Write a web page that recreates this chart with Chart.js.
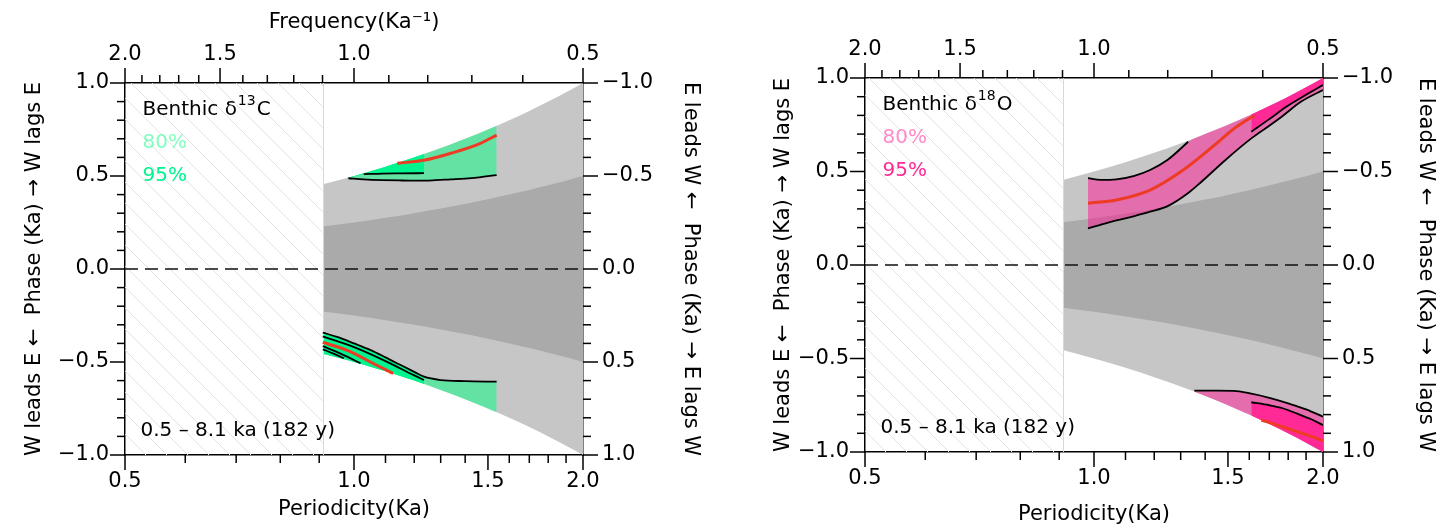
<!DOCTYPE html>
<html>
<head>
<meta charset="utf-8">
<script src="https://cdn.jsdelivr.net/npm/chart.js@4.4.1/dist/chart.umd.min.js"></script>
<style>
  body { margin: 0; background: #fff; }
  .panel { position: absolute; top: 0; }
</style>
</head>
<body>
<div class="panel" style="left:0"><canvas id="c13" width="727" height="527"></canvas></div>
<div class="panel" style="left:727px"><canvas id="o18" width="728" height="527"></canvas></div>
<script>
// ===== Ejes =====
const periodTicks = [0.5, 0.6, 0.7, 0.8, 0.9, 1.0, 1.1, 1.2, 1.3, 1.4, 1.5, 1.6, 1.7, 1.8, 1.9, 2.0];
const periodLabels = [0.5, 1.0, 1.5, 2.0];
const freqTicks = [2.0, 1.9, 1.8, 1.7, 1.6, 1.5, 1.4, 1.3, 1.2, 1.1, 1.0, 0.9, 0.8, 0.7, 0.6, 0.5];
const freqLabels = [2.0, 1.5, 1.0, 0.5];
const phaseTicks = [-1.0, -0.9, -0.8, -0.7, -0.6, -0.5, -0.4, -0.3, -0.2, -0.1, 0.0,
                    0.1, 0.2, 0.3, 0.4, 0.5, 0.6, 0.7, 0.8, 0.9, 1.0];
const phaseLabels = [-1.0, -0.5, 0.0, 0.5, 1.0];

// zona rayada (periodos no resueltos)
const hatchBand = [0.5, 0.91];

// ===== Envolventes grises =====
const envP      = [0.91, 1.0, 1.1, 1.2, 1.3, 1.4, 1.5, 1.6, 1.7, 1.8, 1.9, 2.0];
const halfUp    = [0.455, 0.50, 0.55, 0.60, 0.65, 0.70, 0.75, 0.80, 0.85, 0.90, 0.95, 1.00];
const halfDn    = [-0.455, -0.50, -0.55, -0.60, -0.65, -0.70, -0.75, -0.80, -0.85, -0.90, -0.95, -1.00];
const quarterUp = [0.228, 0.25, 0.275, 0.30, 0.325, 0.35, 0.375, 0.40, 0.425, 0.45, 0.475, 0.50];
const quarterDn = [-0.228, -0.25, -0.275, -0.30, -0.325, -0.35, -0.375, -0.40, -0.425, -0.45, -0.475, -0.50];

// ===== Benthic d13C =====
const c13Up80P  = [0.983, 1.03, 1.09, 1.15, 1.21, 1.27, 1.34, 1.40, 1.45, 1.54];
const c13Up80Hi = [0.490, 0.515, 0.545, 0.575, 0.605, 0.635, 0.670, 0.700, 0.725, 0.770];
const c13Up80Lo = [0.488, 0.482, 0.478, 0.476, 0.475, 0.477, 0.482, 0.486, 0.491, 0.505];
const c13Up95P  = [0.983, 1.03, 1.09, 1.15, 1.236];
const c13Up95Hi = [0.490, 0.515, 0.545, 0.575, 0.618];
const c13Up95Lo = [0.488, 0.510, 0.513, 0.514, 0.515];
const c13UpRedP = [1.14, 1.24, 1.34, 1.45, 1.54];
const c13UpRed  = [0.568, 0.586, 0.622, 0.667, 0.720];

const c13LoP    = [0.91, 0.95, 1.0, 1.05, 1.1, 1.15, 1.2, 1.236, 1.3, 1.4, 1.54];
const c13LoTop  = [-0.342, -0.365, -0.40, -0.435, -0.475, -0.515, -0.553, -0.579, -0.597, -0.603, -0.606];
const c13LoEnv  = [-0.455, -0.475, -0.50, -0.525, -0.55, -0.575, -0.60, -0.618, -0.65, -0.70, -0.77];
const c13Lo95P  = [0.91, 0.95, 1.0, 1.05, 1.1, 1.15, 1.2, 1.236];
const c13Lo95Hi = [-0.342, -0.365, -0.40, -0.435, -0.475, -0.515, -0.553, -0.579];
const c13Lo95Lo = [-0.455, -0.475, -0.50, -0.525, -0.55, -0.575, -0.60, -0.618];
const c13LoLineBP = [0.91, 1.0, 1.1, 1.2, 1.236];
const c13LoLineB  = [-0.362, -0.42, -0.495, -0.572, -0.597];
const c13LoLineCP = [0.91, 0.94, 0.97];
const c13LoLineC  = [-0.432, -0.455, -0.48];
const c13LoLineDP = [0.91, 0.96, 1.02];
const c13LoLineD  = [-0.415, -0.455, -0.507];
const c13LoRedP = [0.91, 0.99, 1.06, 1.126];
const c13LoRed  = [-0.394, -0.445, -0.508, -0.561];

// ===== Benthic d18O =====
const o18Up80P  = [0.982, 1.02, 1.07, 1.13, 1.185, 1.25, 1.33, 1.38, 1.49, 1.61, 1.70, 1.77, 1.87, 2.0];
const o18Up80Hi = [0.464, 0.455, 0.458, 0.477, 0.508, 0.563, 0.659, 0.690, 0.745, 0.805, 0.850, 0.885, 0.935, 1.0];
const o18Up80Lo = [0.196, 0.215, 0.238, 0.262, 0.285, 0.315, 0.385, 0.440, 0.563, 0.677, 0.745, 0.797, 0.873, 0.936];
const o18UpEdgeP = [0.982, 1.02, 1.07, 1.13, 1.185, 1.25, 1.33];
const o18UpEdge  = [0.464, 0.455, 0.458, 0.477, 0.508, 0.563, 0.659];
const o18Up95P  = [1.61, 1.70, 1.79, 1.90, 2.0];
const o18Up95Hi = [0.805, 0.850, 0.895, 0.950, 1.0];
const o18Up95Lo = [0.713, 0.780, 0.846, 0.910, 0.963];
const o18UpRedP = [0.982, 1.07, 1.185, 1.31, 1.45, 1.53, 1.625];
const o18UpRed  = [0.33, 0.348, 0.401, 0.508, 0.651, 0.731, 0.80];

const o18Lo80P  = [1.355, 1.45, 1.525, 1.61, 1.70, 1.80, 1.90, 2.0];
const o18Lo80Hi = [-0.672, -0.672, -0.673, -0.688, -0.71, -0.74, -0.772, -0.811];
const o18Lo80Lo = [-0.678, -0.725, -0.763, -0.805, -0.85, -0.90, -0.95, -1.0];
const o18Lo95P  = [1.61, 1.70, 1.77, 1.85, 1.93, 2.0];
const o18Lo95Hi = [-0.734, -0.75, -0.766, -0.795, -0.825, -0.856];
const o18Lo95Lo = [-0.805, -0.85, -0.885, -0.925, -0.965, -1.0];
const o18LoRedP = [1.66, 1.74, 1.82, 1.91, 2.0];
const o18LoRed  = [-0.829, -0.855, -0.882, -0.91, -0.94];

// ===== Colores =====
const lightGray = '#c6c6c6';
const darkGray = '#aaaaaa';
const redLine = '#ee3b24';
const green80 = 'rgba(0, 255, 127, 0.5)';
const green95 = '#00f58f';
const pink80 = 'rgba(255, 20, 147, 0.5)';
const pink95 = '#ff2a95';

const FONT = 'DejaVu Sans';
Chart.defaults.font.family = FONT;
Chart.defaults.color = '#000';

function pts(ps, vs) {
    return ps.map((p, i) => ({ x: p, y: vs[i] }));
}

// par de series: borde inferior invisible + borde superior relleno hasta el anterior
function band(ps, lo, hi, color, order) {
    const base = { borderWidth: 0, borderColor: 'rgba(0,0,0,0)', pointRadius: 0, cubicInterpolationMode: 'monotone', order: order };
    return [
        Object.assign({ data: pts(ps, lo), fill: false }, base),
        Object.assign({ data: pts(ps, hi), fill: '-1', backgroundColor: color }, base)
    ];
}

function curve(ps, vs, color, width, order) {
    return { data: pts(ps, vs), borderColor: color, borderWidth: width, pointRadius: 0,
             fill: false, cubicInterpolationMode: 'monotone', order: order };
}

function grayBands() {
    return [].concat(
        band(envP, halfDn, halfUp, lightGray, 20),
        band(envP, quarterDn, quarterUp, darkGray, 19)
    );
}

function zeroLine() {
    return { data: pts([0.5, 2.0], [0, 0]), borderColor: '#111', borderWidth: 1.5,
             borderDash: [13, 7], pointRadius: 0, fill: false, order: 1 };
}

function fmtPhase(v) {
    return (v < -1e-9 ? '\u2212' : '') + Math.abs(v).toFixed(1);
}

// ===== Plugins =====
const hatchPlugin = {
    id: 'hatch',
    beforeDatasetsDraw(chart) {
        const { ctx, chartArea: a, scales } = chart;
        const x0 = scales.x.getPixelForValue(hatchBand[0]);
        const x1 = scales.x.getPixelForValue(hatchBand[1]);
        const h = a.bottom - a.top;
        ctx.save();
        ctx.beginPath();
        ctx.rect(x0, a.top, x1 - x0, h);
        ctx.clip();
        ctx.strokeStyle = '#e3e3e3';
        ctx.lineWidth = 1;
        ctx.beginPath();
        for (let k = -h; k < (x1 - x0) + 20; k += 21) {
            ctx.moveTo(x0 + k, a.top);
            ctx.lineTo(x0 + k + h, a.bottom);
        }
        ctx.stroke();
        ctx.restore();
        ctx.save();
        ctx.strokeStyle = '#d8d8d8';
        ctx.lineWidth = 1;
        ctx.beginPath();
        ctx.moveTo(Math.round(x1) + 0.5, a.top);
        ctx.lineTo(Math.round(x1) + 0.5, a.bottom);
        ctx.stroke();
        ctx.restore();
    }
};

const tickPlugin = {
    id: 'tickMarks',
    afterDraw(chart) {
        const ctx = chart.ctx;
        ctx.save();
        ctx.strokeStyle = '#000';
        ctx.lineWidth = 1.5;
        Object.values(chart.scales).forEach(s => {
            s.ticks.forEach(t => {
                const len = t.label ? 15 : 8;
                const p = s.getPixelForValue(t.value);
                ctx.beginPath();
                if (s.position === 'bottom') { ctx.moveTo(p, s.top); ctx.lineTo(p, s.top + len); }
                else if (s.position === 'top') { ctx.moveTo(p, s.bottom); ctx.lineTo(p, s.bottom - len); }
                else if (s.position === 'left') { ctx.moveTo(s.right, p); ctx.lineTo(s.right - len, p); }
                else { ctx.moveTo(s.left, p); ctx.lineTo(s.left + len, p); }
                ctx.stroke();
            });
        });
        ctx.restore();
    }
};

function textPlugin(sup, main, col80, col95) {
    return {
        id: 'labels',
        afterDatasetsDraw(chart) {
            const { ctx, chartArea: a } = chart;
            const x = a.left + 17.5;
            ctx.save();
            ctx.textBaseline = 'alphabetic';
            ctx.textAlign = 'left';
            ctx.fillStyle = '#000';
            ctx.font = '20px "' + FONT + '"';
            const head = 'Benthic \u03b4';
            ctx.fillText(head, x, a.top + 32);
            let w = ctx.measureText(head).width;
            ctx.font = '14px "' + FONT + '"';
            ctx.fillText(sup, x + w + 1, a.top + 22);
            const ws = ctx.measureText(sup).width;
            ctx.font = '20px "' + FONT + '"';
            ctx.fillText(main, x + w + ws + 2, a.top + 32);
            ctx.fillStyle = col80;
            ctx.fillText('80%', x, a.top + 65);
            ctx.fillStyle = col95;
            ctx.fillText('95%', x, a.top + 97.5);
            ctx.fillStyle = '#000';
            ctx.fillText('0.5 \u2013 8.1 ka (182 y)', x - 2, a.bottom - 19);
            ctx.restore();
        }
    };
}

function buildPanel(id, datasets, lay) {
    return new Chart(document.getElementById(id), {
        type: 'line',
        data: { datasets: datasets },
        options: {
            responsive: false,
            animation: false,
            layout: { padding: 0 },
            plugins: {
                legend: { display: false },
                tooltip: { enabled: false },
                filler: { drawTime: 'beforeDatasetsDraw' }
            },
            scales: {
                x: {
                    type: 'logarithmic', position: 'bottom', min: 0.5, max: 2.0,
                    afterBuildTicks: s => { s.ticks = periodTicks.map(v => ({ value: v })); },
                    afterFit: s => { s.height = lay.bottom; },
                    grid: { display: false, drawTicks: false },
                    border: { display: true, color: '#000', width: 1.5 },
                    ticks: {
                        padding: 14, autoSkip: false, maxRotation: 0, font: { size: 21 },
                        callback: v => periodLabels.includes(v) ? v.toFixed(1) : ''
                    },
                    title: { display: true, text: 'Periodicity(Ka)', font: { size: 21 },
                             padding: { top: 0, bottom: lay.xTitlePad } }
                },
                x2: {
                    type: 'logarithmic', position: 'top', min: 0.5, max: 2.0,
                    afterBuildTicks: s => { s.ticks = freqTicks.map(f => ({ value: 1 / f })); },
                    afterFit: s => { s.height = lay.top; },
                    grid: { display: false, drawTicks: false },
                    border: { display: true, color: '#000', width: 1.5 },
                    ticks: {
                        padding: 16, autoSkip: false, maxRotation: 0, font: { size: 21 },
                        callback: v => {
                            const f = Math.round(10 / v) / 10;
                            return freqLabels.includes(f) ? f.toFixed(1) : '';
                        }
                    },
                    title: { display: lay.freqTitle, text: 'Frequency(Ka\u207b\u00b9)', font: { size: 21 },
                             padding: { top: 10, bottom: 0 } }
                },
                y: {
                    type: 'linear', position: 'left', min: -1, max: 1,
                    afterBuildTicks: s => { s.ticks = phaseTicks.map(v => ({ value: v })); },
                    afterFit: s => { s.width = lay.left; },
                    grid: { display: false, drawTicks: false },
                    border: { display: true, color: '#000', width: 1.5 },
                    ticks: {
                        padding: 16, autoSkip: false, font: { size: 21 },
                        callback: v => phaseLabels.includes(v) ? fmtPhase(v) : ''
                    },
                    title: { display: true, text: 'W leads E \u2190  Phase (Ka) \u2192 W lags E',
                             font: { size: 21 }, padding: { top: lay.yTitlePad, bottom: 0 } }
                },
                y2: {
                    type: 'linear', position: 'right', min: -1, max: 1, reverse: true,
                    afterBuildTicks: s => { s.ticks = phaseTicks.map(v => ({ value: v })); },
                    afterFit: s => { s.width = lay.right; },
                    grid: { display: false, drawTicks: false },
                    border: { display: true, color: '#000', width: 1.5 },
                    ticks: {
                        padding: 19, autoSkip: false, font: { size: 21 },
                        callback: v => phaseLabels.includes(v) ? fmtPhase(v) : ''
                    },
                    title: { display: true, text: 'E leads W \u2190  Phase (Ka) \u2192 E lags W',
                             font: { size: 21 }, padding: { top: lay.y2TitlePad, bottom: 0 } }
                }
            }
        },
        plugins: [hatchPlugin, tickPlugin, lay.text]
    });
}

// ===== Panel izquierdo: d13C =====
const c13Sets = [].concat(
    [zeroLine()],
    [curve(c13UpRedP, c13UpRed, redLine, 3, 2), curve(c13LoRedP, c13LoRed, redLine, 3, 2)],
    [curve(c13Up80P, c13Up80Lo, '#000', 1.8, 3), curve(c13Up95P.slice(1), c13Up95Lo.slice(1), '#000', 1.8, 3),
     curve(c13LoP, c13LoTop, '#000', 1.8, 3), curve(c13LoLineBP, c13LoLineB, '#000', 1.8, 3),
     curve(c13LoLineCP, c13LoLineC, '#000', 1.8, 3), curve(c13LoLineDP, c13LoLineD, '#000', 1.8, 3)],
    band(c13Up95P, c13Up95Lo, c13Up95Hi, green95, 7),
    band(c13Lo95P, c13Lo95Lo, c13Lo95Hi, green95, 7),
    band(c13Up80P, c13Up80Lo, c13Up80Hi, green80, 8),
    band(c13LoP, c13LoEnv, c13LoTop, green80, 8),
    grayBands()
);

buildPanel('c13', c13Sets, {
    left: 125, right: 144, top: 83, bottom: 72,
    xTitlePad: 5, yTitlePad: 22, y2TitlePad: 24, freqTitle: true,
    text: textPlugin('13', 'C', green80, green95)
});

// ===== Panel derecho: d18O =====
const o18Sets = [].concat(
    [zeroLine()],
    [curve(o18UpRedP, o18UpRed, redLine, 3, 2), curve(o18LoRedP, o18LoRed, redLine, 3, 2)],
    [curve(o18UpEdgeP, o18UpEdge, '#000', 1.8, 3), curve(o18Up80P, o18Up80Lo, '#000', 1.8, 3),
     curve(o18Up95P, o18Up95Lo, '#000', 1.8, 3),
     curve(o18Lo80P, o18Lo80Hi, '#000', 1.8, 3), curve(o18Lo95P, o18Lo95Hi, '#000', 1.8, 3)],
    band(o18Up95P, o18Up95Lo, o18Up95Hi, pink95, 7),
    band(o18Lo95P, o18Lo95Lo, o18Lo95Hi, pink95, 7),
    band(o18Up80P, o18Up80Lo, o18Up80Hi, pink80, 8),
    band(o18Lo80P, o18Lo80Lo, o18Lo80Hi, pink80, 8),
    grayBands()
);

buildPanel('o18', o18Sets, {
    left: 138, right: 132, top: 78, bottom: 75,
    xTitlePad: 0, yTitlePad: 44, y2TitlePad: 17, freqTitle: false,
    text: textPlugin('18', 'O', pink80, pink95)
});
</script>
</body>
</html>
